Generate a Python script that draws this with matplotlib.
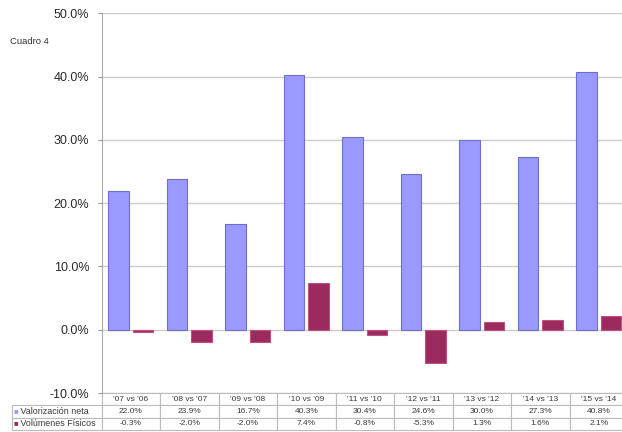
import matplotlib.pyplot as plt
import numpy as np

plt.rcParams['font.family'] = ['Liberation Sans', 'DejaVu Sans']

# data
periodos = ["'07 vs '06", "'08 vs '07", "'09 vs '08", "'10 vs '09", "'11 vs '10",
            "'12 vs '11", "'13 vs '12", "'14 vs '13", "'15 vs '14"]
valorizacion = [22.0, 23.9, 16.7, 40.3, 30.4, 24.6, 30.0, 27.3, 40.8]
volumenes = [-0.3, -2.0, -2.0, 7.4, -0.8, -5.3, 1.3, 1.6, 2.1]
series_names = ['Valorización neta', 'Volúmenes Físicos']

c_blue = '#9999ff'
c_red = '#9b2a5e'

fig = plt.figure(figsize=(6.22, 4.32), dpi=100)
W, H = 622, 432
ax_l, ax_r, ax_t, ax_b = 101.7, 628, 13.4, 393
ax = fig.add_axes([ax_l / W, 1 - ax_b / H, (ax_r - ax_l) / W, (ax_b - ax_t) / H])

x = np.arange(len(periodos))
w = 0.35
ax.bar(x - 0.21, valorizacion, w, color=c_blue, edgecolor='#6f6fc8', linewidth=0.8, zorder=3)
ax.bar(x + 0.21, volumenes, w, color=c_red, edgecolor='#c0507e', linewidth=0.8, zorder=3)

ax.set_xlim(-0.5, len(periodos) - 0.5)
ax.set_ylim(-10, 50)
ax.set_yticks(np.arange(-10, 51, 10))
ax.set_yticklabels([f'{v:.1f}%' for v in np.arange(-10, 51, 10)], fontsize=9, color='#2a2a2a')
ax.set_xticks([])
ax.yaxis.grid(True, color='#cccccc', linewidth=1.0, zorder=0)
ax.tick_params(axis='y', length=3, color='#999999', pad=6)
for side in ['top', 'right', 'bottom']:
    ax.spines[side].set_visible(False)
ax.spines['left'].set_color('#aaaaaa')

# data table under the chart
aw = ax_r - ax_l
ah = ax_b - ax_t
tx0 = (11.7 - ax_l) / aw
tw = (ax_r - 11.7) / aw
th = (430 - ax_b) / ah
cell_text = [['   ' + series_names[0]] + [f'{v:.1f}%' for v in valorizacion],
             ['   ' + series_names[1]] + [f'{v:.1f}%' for v in volumenes]]
tbl = ax.table(cellText=cell_text, colLabels=[''] + periodos,
               colWidths=[90] + [58.5] * len(periodos),
               bbox=[tx0, -th, tw, th], cellLoc='center')
tbl.auto_set_font_size(False)
for (r, c), cell in tbl.get_celld().items():
    cell.set_edgecolor('#bbbbbb')
    cell.set_linewidth(0.8)
    cell.get_text().set_fontsize(6)
    cell.get_text().set_color('#3a3a3a')
    if c == 0:
        cell.get_text().set_ha('left')
        cell.get_text().set_fontsize(6.4)
        cell.PAD = 0.02
tbl[0, 0].visible_edges = ''

# legend keys in the row labels
for i, col in enumerate([c_blue, c_red]):
    yc = 1 - (411.5 + i * 12.5) / H
    fig.text(13.5 / W, yc, '■', color=col, fontsize=5.5, va='center', ha='left')

fig.text(10 / W, 1 - 42 / H, 'Cuadro 4', fontsize=6.8, color='#333333', va='center')

fig.savefig('out.png', dpi=100)
